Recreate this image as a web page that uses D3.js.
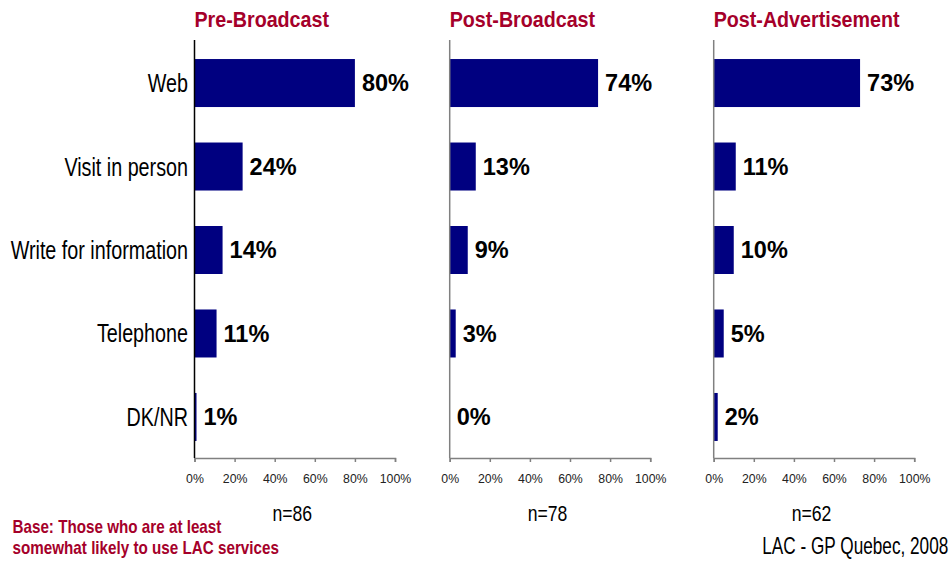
<!DOCTYPE html>
<html>
<head>
<meta charset="utf-8">
<script src="https://cdn.jsdelivr.net/npm/d3@7"></script>
<style>
  html, body { margin: 0; padding: 0; background: #fff; }
  svg { display: block; }
</style>
</head>
<body>
<svg id="chart" width="952" height="562"></svg>
<script>
// Information channels people would use, by survey wave
const categories = ["Web", "Visit in person", "Write for information", "Telephone", "DK/NR"];
const waves = ["Pre-Broadcast", "Post-Broadcast", "Post-Advertisement"];
const preBroadcast = [80, 24, 14, 11, 1];
const postBroadcast = [74, 13, 9, 3, 0];
const postAdvertisement = [73, 11, 10, 5, 2];
const sampleSizes = ["n=86", "n=78", "n=62"];
const tickValues = [0, 20, 40, 60, 80, 100];

const seriesList = [preBroadcast, postBroadcast, postAdvertisement];

const sans = "'Liberation Sans', Arial, sans-serif";
const titleRed = "#A5002A";
const barColor = "#000080";

// Squeeze text horizontally around its anchor point to get a condensed face
function condense(sel, k) {
  sel.each(function () {
    const t = d3.select(this);
    const x = +t.attr("x") || 0, y = +t.attr("y") || 0;
    t.attr("x", 0).attr("y", 0).attr("transform", `translate(${x},${y}) scale(${k},1)`);
  });
}

const svg = d3.select("#chart");

const panelLeft = [194.5, 449.7, 713.7];
const panelWidth = 200.5;
const plotTop = 40, plotBottom = 458;

const y = d3.scaleBand()
  .domain(categories)
  .range([41.5, 458.5])
  .paddingInner(0.425)
  .paddingOuter(0.21);

// Category labels on the left
svg.append("g")
  .selectAll("text")
  .data(categories)
  .join("text")
  .attr("x", 188)
  .attr("y", d => y(d) + y.bandwidth() / 2 + 9)
  .attr("text-anchor", "end")
  .attr("font-family", sans)
  .attr("font-size", 25)
  .attr("fill", "#000")
  .text(d => d)
  .call(condense, 0.79);

waves.forEach((wave, i) => {
  const x = d3.scaleLinear().domain([0, 100]).range([panelLeft[i], panelLeft[i] + panelWidth]);
  const g = svg.append("g");
  const values = seriesList[i];

  // Panel title
  g.append("text")
    .attr("x", panelLeft[i])
    .attr("y", 27)
    .attr("font-family", sans)
    .attr("font-weight", "bold")
    .attr("font-size", 22.5)
    .attr("fill", titleRed)
    .text(wave)
    .call(condense, 0.875);

  // Bars
  g.selectAll("rect")
    .data(values)
    .join("rect")
    .attr("x", x(0))
    .attr("y", (d, j) => y(categories[j]))
    .attr("width", d => x(d) - x(0))
    .attr("height", y.bandwidth())
    .attr("fill", barColor);

  // Value labels
  g.selectAll("text.val")
    .data(values)
    .join("text")
    .attr("class", "val")
    .attr("x", d => x(d) + 7)
    .attr("y", (d, j) => y(categories[j]) + y.bandwidth() / 2)
    .attr("dy", "0.36em")
    .attr("font-family", sans)
    .attr("font-weight", "bold")
    .attr("font-size", 23.5)
    .attr("fill", "#000")
    .text(d => d + "%");

  // Value axis
  const axis = g.append("g")
    .attr("transform", `translate(0,${plotBottom})`)
    .call(d3.axisBottom(x).tickValues(tickValues).tickSize(4).tickFormat(d => d + "%"));
  axis.select(".domain").attr("stroke", "#808080").attr("stroke-width", 1.5);
  axis.selectAll(".tick line").attr("stroke", "#808080").attr("stroke-width", 1.5);
  axis.selectAll(".tick text")
    .attr("font-family", sans)
    .attr("font-size", 12.3)
    .attr("fill", "#222")
    .attr("y", 24.5)
    .attr("dy", 0);

  // Category axis line
  g.append("line")
    .attr("x1", x(0)).attr("x2", x(0))
    .attr("y1", plotTop).attr("y2", plotBottom)
    .attr("stroke", i === 0 ? "#000" : "#808080")
    .attr("stroke-width", 1.5);

  // Sample size
  g.append("text")
    .attr("x", x(50) - 2.5)
    .attr("y", 520.5)
    .attr("text-anchor", "middle")
    .attr("font-family", sans)
    .attr("font-size", 22)
    .attr("fill", "#000")
    .text(sampleSizes[i])
    .call(condense, 0.8);
});

// Base note
const noteLines = ["Base: Those who are at least", "somewhat likely to use LAC services"];
svg.append("g")
  .selectAll("text")
  .data(noteLines)
  .join("text")
  .attr("x", 12.5)
  .attr("y", (d, i) => 533.3 + i * 20.2)
  .attr("font-family", sans)
  .attr("font-weight", "bold")
  .attr("font-size", 17.7)
  .attr("fill", titleRed)
  .text(d => d)
  .call(condense, 0.86);

// Source
svg.append("text")
  .attr("x", 948.3)
  .attr("y", 554.3)
  .attr("text-anchor", "end")
  .attr("font-family", sans)
  .attr("font-size", 23)
  .attr("fill", "#000")
  .text("LAC - GP Quebec, 2008")
  .call(condense, 0.748);
</script>
</body>
</html>
